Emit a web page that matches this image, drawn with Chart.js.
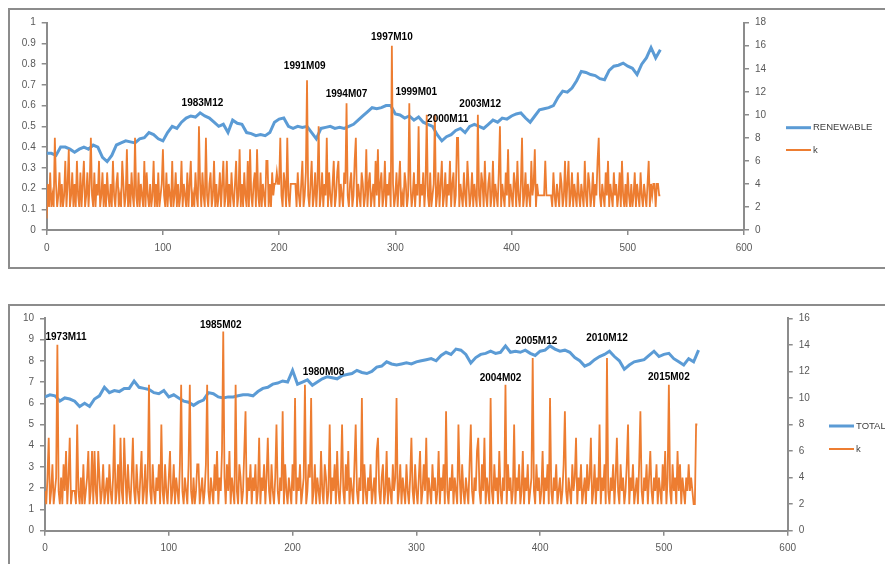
<!DOCTYPE html>
<html>
<head>
<meta charset="utf-8">
<script src="https://cdn.jsdelivr.net/npm/chart.js@4.4.1/dist/chart.umd.min.js"></script>
<style>
  body { margin: 0; background: #fff; width: 885px; height: 564px; overflow: hidden; position: relative; }
  .frame { position: absolute; border: 2px solid #8c8c8c; box-sizing: border-box; }
  canvas { position: absolute; left: 0; }
</style>
</head>
<body>
<div class="frame" style="left:8px;top:8px;width:900px;height:261px;"></div>
<div class="frame" style="left:8px;top:304px;width:900px;height:280px;"></div>
<canvas id="chartTop" width="885" height="280" style="top:0"></canvas>
<canvas id="chartBottom" width="885" height="274" style="top:290px"></canvas>
<script>
// ---- top panel data ----
const renewStep = 4; // RENEWABLE read every 4 observations
const renewable = [
  0.37, 0.37, 0.36, 0.40, 0.40, 0.39, 0.375, 0.39, 0.40, 0.39,
  0.41, 0.40, 0.35, 0.33, 0.36, 0.41, 0.42, 0.43, 0.425, 0.42,
  0.44, 0.445, 0.47, 0.46, 0.44, 0.43, 0.47, 0.50, 0.49, 0.52,
  0.54, 0.55, 0.545, 0.565, 0.55, 0.54, 0.52, 0.50, 0.51, 0.47,
  0.53, 0.515, 0.51, 0.47, 0.465, 0.455, 0.46, 0.455, 0.47, 0.52,
  0.535, 0.54, 0.50, 0.49, 0.50, 0.495, 0.50, 0.47, 0.44, 0.49,
  0.495, 0.50, 0.49, 0.495, 0.49, 0.50, 0.51, 0.53, 0.55, 0.57,
  0.59, 0.585, 0.59, 0.60, 0.60, 0.56, 0.555, 0.54, 0.55, 0.53,
  0.545, 0.52, 0.51, 0.50, 0.46, 0.43, 0.45, 0.46, 0.48, 0.49,
  0.47, 0.50, 0.51, 0.50, 0.49, 0.51, 0.53, 0.52, 0.54, 0.535,
  0.55, 0.56, 0.565, 0.54, 0.52, 0.55, 0.58, 0.585, 0.59, 0.60,
  0.64, 0.67, 0.665, 0.685, 0.72, 0.765, 0.76, 0.75, 0.745, 0.73,
  0.725, 0.77, 0.79, 0.795, 0.805, 0.79, 0.78, 0.75, 0.80, 0.83,
  0.88, 0.83, 0.87
];
const kTop = [
  1, 4, 2, 5, 2, 3, 2, 8, 4, 2, 3, 5, 2, 4, 2, 3, 6, 2, 4, 7,
  2, 3, 5, 2, 4, 2, 6, 3, 2, 5, 2, 4, 6, 2, 3, 5, 2, 4, 8, 3,
  2, 5, 2, 4, 3, 6, 2, 3, 5, 2, 4, 2, 5, 3, 2, 4, 2, 6, 3, 2,
  4, 5, 2, 3, 2, 6, 4, 2, 3, 7, 2, 4, 2, 5, 3, 2, 8, 3, 2, 5,
  2, 4, 3, 2, 6, 2, 5, 3, 2, 4, 2, 3, 6, 2, 4, 2, 5, 2, 3, 4,
  7, 3, 2, 5, 2, 4, 3, 2, 6, 2, 3, 5, 2, 4, 2, 3, 6, 2, 4, 3,
  2, 5, 2, 4, 6, 2, 3, 2, 5, 3, 2, 9, 4, 2, 5, 3, 2, 8, 3, 2,
  4, 5, 2, 3, 6, 2, 4, 2, 3, 5, 2, 4, 6, 2, 3, 6, 2, 4, 2, 5,
  3, 2, 4, 6, 2, 3, 7, 2, 4, 2, 5, 3, 2, 6, 2, 7, 3, 2, 4, 5,
  2, 7, 3, 2, 5, 2, 4, 3, 2, 6, 6, 2, 4, 2, 5, 3, 4, 4, 5, 4,
  4, 8, 3, 2, 5, 4, 2, 8, 3, 2, 4, 4, 4, 4, 4, 2, 5, 3, 2, 4,
  6, 2, 3, 5, 13, 3, 2, 4, 6, 2, 3, 5, 2, 4, 9, 2, 3, 5, 2, 4,
  3, 8, 2, 5, 3, 2, 4, 6, 2, 3, 5, 6, 2, 4, 3, 2, 5, 4, 11, 3,
  2, 4, 5, 2, 3, 6, 8, 2, 4, 3, 2, 5, 4, 2, 3, 7, 2, 4, 5, 2,
  3, 4, 2, 6, 3, 7, 2, 4, 5, 2, 3, 6, 2, 4, 3, 5, 2, 16, 4, 2,
  3, 5, 2, 4, 6, 2, 3, 2, 5, 4, 2, 3, 11, 4, 2, 3, 5, 2, 4, 3,
  9, 2, 4, 3, 5, 2, 4, 10, 3, 2, 5, 2, 3, 4, 10, 2, 3, 5, 2, 4,
  6, 2, 3, 5, 2, 4, 3, 6, 2, 4, 5, 2, 3, 8, 8, 2, 4, 3, 2, 5,
  3, 2, 6, 4, 2, 3, 5, 2, 4, 3, 2, 10, 3, 2, 5, 4, 2, 6, 3, 2,
  4, 5, 2, 3, 6, 2, 4, 3, 2, 5, 9, 2, 4, 3, 2, 5, 3, 7, 2, 4,
  3, 2, 5, 4, 2, 6, 3, 2, 4, 8, 2, 3, 5, 2, 4, 3, 2, 6, 3, 4,
  7, 2, 4, 3, 3, 3, 3, 3, 3, 6, 3, 3, 3, 3, 3, 2, 5, 3, 2, 4,
  3, 2, 5, 4, 2, 3, 6, 2, 4, 6, 2, 3, 5, 2, 4, 3, 2, 5, 3, 2,
  4, 3, 2, 6, 3, 2, 5, 4, 2, 3, 5, 2, 4, 3, 6, 8, 3, 2, 4, 3,
  2, 5, 3, 6, 2, 4, 3, 2, 5, 3, 4, 2, 3, 5, 2, 6, 3, 2, 4, 2,
  5, 3, 2, 4, 2, 3, 5, 2, 4, 3, 2, 5, 3, 2, 4, 3, 2, 4, 6, 2,
  4, 3, 4, 4, 2, 4, 4, 3, 3
];
const topNotes = ["1983M12", "1991M09", "1994M07", "1997M10", "1999M01", "2000M11", "2003M12"];
const topNoteX = [134, 222, 258, 297, 318, 345, 373];
const topNoteY = [0.613, 0.789, 0.657, 0.929, 0.663, 0.535, 0.607];

// ---- bottom panel data ----
const totalStep = 4; // TOTAL read every 4 observations
const total = [
  6.3, 6.4, 6.35, 6.1, 6.25, 6.2, 6.1, 5.85, 6.0, 5.85,
  6.2, 6.35, 6.75, 6.5, 6.6, 6.55, 6.7, 6.7, 7.05, 6.75,
  6.7, 6.65, 6.5, 6.45, 6.6, 6.3, 6.4, 6.25, 6.1, 6.05,
  5.9, 6.05, 6.15, 6.5, 6.45, 6.3, 6.25, 6.3, 6.3, 6.35,
  6.4, 6.4, 6.35, 6.55, 6.7, 6.75, 6.9, 6.95, 7.05, 7.0,
  7.55, 6.9, 7.0, 7.1, 6.85, 7.0, 7.15, 7.25, 7.2, 7.15,
  7.3, 7.35, 7.4, 7.55, 7.45, 7.4, 7.5, 7.7, 7.75, 7.95,
  7.85, 7.8, 7.85, 7.9, 7.85, 7.95, 8.0, 8.05, 8.1, 8.0,
  8.25, 8.4, 8.3, 8.55, 8.5, 8.3, 7.9, 8.15, 8.3, 8.35,
  8.45, 8.35, 8.4, 8.7, 8.4, 8.45, 8.4, 8.5, 8.35, 8.25,
  8.45, 8.5, 8.7, 8.55, 8.45, 8.5, 8.4, 8.15, 8.0, 7.75,
  7.85, 8.05, 8.2, 8.3, 8.45, 8.2, 8.0, 7.6, 7.8, 7.95,
  8.0, 8.05, 8.25, 8.45, 8.2, 8.3, 8.35, 8.1, 7.95, 7.8,
  8.1, 7.95, 8.5
];
const kBottom = [
  3, 2, 4, 7, 2, 3, 5, 2, 3, 4, 14, 3, 2, 4, 2, 5, 3, 6, 2, 4,
  7, 2, 3, 3, 3, 2, 8, 3, 2, 4, 2, 5, 2, 3, 4, 6, 2, 3, 6, 2,
  6, 3, 2, 6, 4, 2, 3, 5, 2, 3, 4, 2, 5, 3, 2, 4, 8, 2, 3, 5,
  2, 7, 3, 2, 7, 4, 2, 5, 3, 2, 4, 7, 3, 2, 5, 3, 2, 4, 6, 2,
  3, 5, 2, 4, 11, 3, 2, 5, 3, 2, 4, 3, 5, 2, 8, 3, 2, 5, 3, 2,
  4, 6, 2, 3, 5, 2, 4, 3, 2, 5, 11, 3, 2, 4, 3, 2, 5, 11, 3, 2,
  4, 2, 3, 5, 5, 2, 3, 4, 2, 3, 5, 11, 3, 2, 4, 3, 2, 5, 3, 6,
  2, 4, 3, 6, 15, 4, 2, 5, 3, 6, 2, 4, 3, 2, 11, 3, 2, 5, 4, 2,
  3, 6, 9, 2, 4, 3, 5, 2, 4, 3, 5, 2, 3, 7, 2, 4, 3, 5, 2, 4,
  7, 3, 2, 5, 3, 2, 4, 8, 3, 2, 4, 3, 9, 2, 5, 3, 2, 4, 3, 2,
  5, 3, 10, 2, 4, 3, 5, 2, 3, 4, 11, 2, 3, 5, 4, 10, 2, 3, 5, 2,
  4, 3, 2, 6, 3, 2, 5, 4, 2, 3, 8, 2, 4, 3, 5, 2, 6, 3, 2, 4,
  8, 3, 2, 5, 3, 6, 2, 4, 3, 2, 5, 8, 3, 2, 4, 3, 10, 2, 5, 3,
  2, 4, 3, 5, 2, 3, 4, 2, 6, 7, 3, 2, 4, 5, 2, 3, 6, 2, 4, 3,
  2, 5, 3, 4, 10, 2, 3, 5, 2, 4, 3, 2, 5, 3, 2, 4, 7, 3, 2, 5,
  3, 2, 4, 6, 2, 3, 5, 3, 7, 2, 4, 3, 2, 5, 3, 4, 2, 3, 6, 2,
  4, 3, 5, 2, 9, 3, 2, 4, 3, 5, 2, 4, 3, 2, 8, 4, 2, 5, 3, 2,
  4, 3, 2, 5, 8, 3, 2, 4, 3, 6, 7, 3, 2, 5, 3, 7, 2, 4, 3, 2,
  10, 3, 2, 5, 3, 4, 2, 6, 3, 2, 4, 3, 11, 2, 5, 3, 4, 2, 3, 8,
  2, 4, 3, 5, 2, 3, 6, 2, 4, 3, 5, 2, 3, 4, 13, 3, 2, 5, 3, 4,
  2, 3, 6, 2, 4, 3, 5, 2, 10, 3, 2, 4, 3, 5, 2, 3, 4, 2, 3, 5,
  9, 3, 2, 4, 3, 2, 5, 3, 4, 7, 2, 4, 3, 5, 2, 3, 4, 2, 5, 3,
  4, 7, 2, 3, 5, 2, 4, 3, 8, 2, 4, 3, 5, 2, 13, 3, 2, 4, 3, 5,
  2, 4, 7, 3, 2, 5, 3, 4, 2, 3, 5, 8, 2, 4, 3, 5, 2, 3, 4, 2,
  5, 9, 3, 2, 4, 3, 5, 2, 4, 6, 3, 2, 4, 3, 5, 2, 4, 3, 2, 5,
  3, 6, 2, 4, 11, 3, 2, 5, 3, 4, 2, 6, 3, 5, 2, 4, 3, 2, 4, 3,
  5, 3, 4, 3, 2, 2, 8, 8
];
const bottomNotes = ["1973M11", "1985M02", "1980M08", "2004M02", "2005M12", "2010M12", "2015M02"];
const bottomNoteX = [17, 142, 225, 368, 397, 454, 504];
const bottomNoteY = [9.13, 9.65, 7.46, 7.17, 8.9, 9.06, 7.22];

const blue = "#5B9BD5", orange = "#ED7D31";
const axisColor = "#8c8c8c", tickColor = "#595959";
const tickFont = { family: "Liberation Sans, Arial, sans-serif", size: 10 };

function notesPlugin(names, xs, ys) {
    return {
        id: "notes",
        afterDatasetsDraw(chart) {
            const { ctx, scales } = chart;
            ctx.save();
            ctx.font = "bold 10px 'Liberation Sans', Arial, sans-serif";
            ctx.fillStyle = "#000";
            ctx.textAlign = "center";
            ctx.textBaseline = "middle";
            names.forEach((n, i) => {
                ctx.fillText(n, scales.x.getPixelForValue(xs[i]), scales.y.getPixelForValue(ys[i]));
            });
            ctx.restore();
        },
    };
}

function legendPlugin(names, left, top, gap) {
    return {
        id: "sideLegend",
        afterDraw(chart) {
            const ctx = chart.ctx;
            ctx.save();
            ctx.font = "9.5px 'Liberation Sans', Arial, sans-serif";
            ctx.textBaseline = "middle";
            ctx.fillStyle = "#404040";
            [blue, orange].forEach((c, i) => {
                const y = top + i * gap;
                ctx.strokeStyle = c;
                ctx.lineWidth = i === 0 ? 3 : 2;
                ctx.beginPath();
                ctx.moveTo(left, y);
                ctx.lineTo(left + 25, y);
                ctx.stroke();
                ctx.fillText(names[i], left + 27, y);
            });
            ctx.restore();
        },
    };
}

function makeChart(id, cfg) {
    const yTicks = (step) => ({
        stepSize: step,
        color: tickColor,
        font: tickFont,
        padding: 6,
        callback: (v) => String(Math.round(v * 10) / 10),
    });
    return new Chart(document.getElementById(id), {
        type: "line",
        data: {
            datasets: [
                {
                    label: "k",
                    data: cfg.k.map((v, i) => ({ x: i, y: v })),
                    borderColor: orange,
                    borderWidth: 1.8,
                    pointRadius: 0,
                    yAxisID: "y1",
                    order: 0,
                },
                {
                    label: cfg.name,
                    data: cfg.main.map((v, i) => ({ x: i * cfg.step, y: v })),
                    borderColor: blue,
                    borderWidth: 3,
                    pointRadius: 0,
                    yAxisID: "y",
                    order: 1,
                },
            ],
        },
        options: {
            responsive: false,
            animation: false,
            devicePixelRatio: 1,
            layout: { padding: { left: 0, right: 0, top: cfg.top, bottom: 0 } },
            plugins: { legend: { display: false }, tooltip: { enabled: false } },
            scales: {
                x: {
                    type: "linear",
                    min: 0,
                    max: 600,
                    ticks: { stepSize: 100, color: tickColor, font: tickFont, padding: 7 },
                    grid: { drawOnChartArea: false, tickLength: 5, color: axisColor, lineWidth: 1.5 },
                    border: { color: axisColor, width: 2 },
                    afterFit: (s) => { s.height = cfg.xh; },
                },
                y: {
                    position: "left",
                    min: 0,
                    max: cfg.leftMax,
                    ticks: yTicks(cfg.leftStep),
                    grid: { drawOnChartArea: false, tickLength: 5, color: axisColor, lineWidth: 1.5 },
                    border: { color: axisColor, width: 2 },
                    afterFit: (s) => { s.width = cfg.lw; },
                },
                y1: {
                    position: "right",
                    min: 0,
                    max: cfg.rightMax,
                    ticks: yTicks(2),
                    grid: { drawOnChartArea: false, tickLength: 5, color: axisColor, lineWidth: 1.5 },
                    border: { color: axisColor, width: 2 },
                    afterFit: (s) => { s.width = cfg.rw; },
                },
            },
        },
        plugins: [cfg.notes, cfg.legend],
    });
}

makeChart("chartTop", {
    k: kTop, main: renewable, step: renewStep, name: "RENEWABLE",
    leftMax: 1, leftStep: 0.1, rightMax: 18,
    top: 22.7, xh: 50, lw: 46.7, rw: 141,
    notes: notesPlugin(topNotes, topNoteX, topNoteY),
    legend: legendPlugin(["RENEWABLE", "k"], 786, 127.7, 22.3),
});

makeChart("chartBottom", {
    k: kBottom, main: total, step: totalStep, name: "TOTAL",
    leftMax: 10, leftStep: 1, rightMax: 16,
    top: 28.3, xh: 33.3, lw: 45, rw: 97.3,
    notes: notesPlugin(bottomNotes, bottomNoteX, bottomNoteY),
    legend: legendPlugin(["TOTAL", "k"], 829, 136, 23),
});
</script>
</body>
</html>
